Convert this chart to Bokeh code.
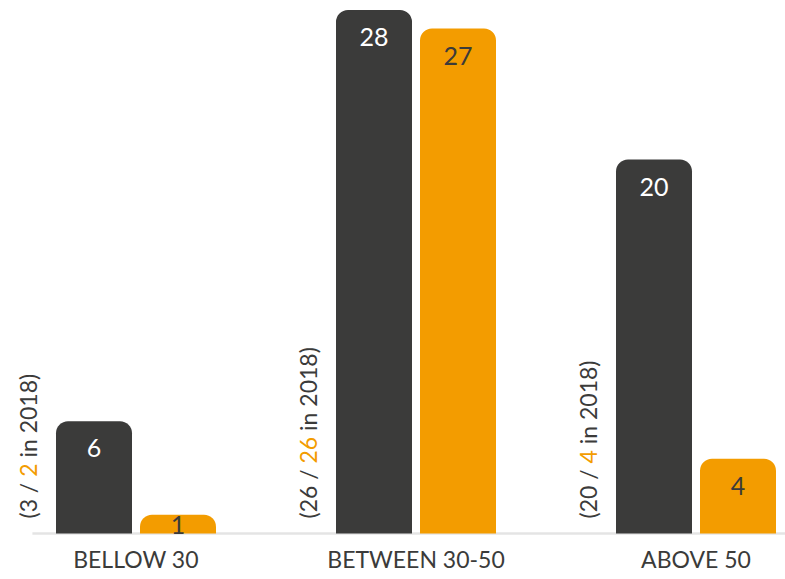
import glob, os, math
from bokeh.plotting import figure
from bokeh.models import Range1d, ColumnDataSource
from bokeh.core.properties import value
from bokeh.embed import file_html
from bokeh.resources import INLINE

# ---- data ----
categories = ["BELLOW 30", "BETWEEN 30-50", "ABOVE 50"]
current_dark = [6, 28, 20]
current_orange = [1, 27, 4]
prev_dark = [3, 26, 20]
prev_orange = [2, 26, 4]

DARK = "#3b3b3a"
ORANGE = "#f39c00"
FONT = "Lato"

# ---- layout constants ----
W, H = 785, 579
PX_X = 280.0          # px per category unit
PPU = 18.7            # px per value unit
X0_PX = 135.5         # screen px of first category
BASE_PX = 533         # baseline, px from plot top

x_start = -X0_PX / PX_X
x_end = x_start + W / PX_X
y_end = BASE_PX / PPU
y_start = -(H - BASE_PX) / PPU

# text measurement
font_path = None
for pat in ["/usr/share/fonts/**/Lato-Regular.ttf", "/usr/share/fonts/**/Lato-Reg*.ttf",
            "/usr/local/share/fonts/**/Lato-Regular.ttf"]:
    hits = glob.glob(pat, recursive=True)
    if hits:
        font_path = hits[0]
        break

def text_width(s, size):
    try:
        from PIL import ImageFont
        f = ImageFont.truetype(font_path, size)
        return f.getlength(s)
    except Exception:
        return len(s) * 0.52 * size

p = figure(width=W, height=H, output_backend="svg", toolbar_location=None,
           x_range=Range1d(x_start, x_end), y_range=Range1d(y_start, y_end),
           min_border=0, min_border_left=0, min_border_right=0,
           min_border_top=0, min_border_bottom=0)
p.xaxis.visible = False
p.yaxis.visible = False
p.grid.visible = False
p.outline_line_color = None
p.background_fill_color = "white"
p.border_fill_color = "white"

xs = list(range(len(categories)))
OFF = 0.15
BW = 76 / PX_X

# baseline
p.segment(x0=[xs[0] - 0.37], x1=[x_end], y0=[0], y1=[0], line_color="#e4e4e4", line_width=2.5)

dark_x = [x - OFF for x in xs]
orange_x = [x + OFF for x in xs]

p.vbar(x=dark_x, top=current_dark, bottom=0, width=BW, fill_color=DARK, line_color=None,
       border_radius=(12, 12, 0, 0))
p.vbar(x=orange_x, top=current_orange, bottom=0, width=BW, fill_color=ORANGE, line_color=None,
       border_radius=(12, 12, 0, 0))

# value labels inside bars
def offs(vals):
    return [min(27, v * PPU * 0.55) for v in vals]

p.text(x=dark_x, y=current_dark, text=[str(v) for v in current_dark], y_offset=offs(current_dark),
       text_align="center", text_baseline="middle", text_color="white",
       text_font=value(FONT), text_font_size="25px")
p.text(x=orange_x, y=current_orange, text=[str(v) for v in current_orange], y_offset=offs(current_orange),
       text_align="center", text_baseline="middle", text_color=DARK,
       text_font=value(FONT), text_font_size="25px")

# rotated annotations with coloured segment
AS = 23
ann_x = [x - 0.385 for x in xs]
segs = {"x": [], "y": [], "text": [], "yo": [], "color": []}
for i, x in enumerate(ann_x):
    parts = [("(%d / " % prev_dark[i], DARK), (str(prev_orange[i]), ORANGE), (" in 2018)", DARK)]
    acc = 15.0
    for s, c in parts:
        lead = len(s) - len(s.lstrip(" "))
        acc += text_width(" " * lead, AS) if lead else 0
        st = s.strip(" ")
        segs["x"].append(x)
        segs["y"].append(0)
        segs["text"].append(st)
        segs["yo"].append(-acc)
        segs["color"].append(c)
        acc += text_width(s.lstrip(" "), AS)
src = ColumnDataSource(segs)
p.text(x="x", y="y", text="text", y_offset="yo", text_color="color", source=src,
       angle=math.pi / 2, text_align="left", text_baseline="middle",
       text_font=value(FONT), text_font_size="%dpx" % AS)

# category labels
p.text(x=xs, y=[0] * len(xs), text=categories, y_offset=25,
       text_align="center", text_baseline="middle", text_color=DARK,
       text_font=value(FONT), text_font_size="23px")

open("out.html", "w").write(file_html(p, INLINE))
